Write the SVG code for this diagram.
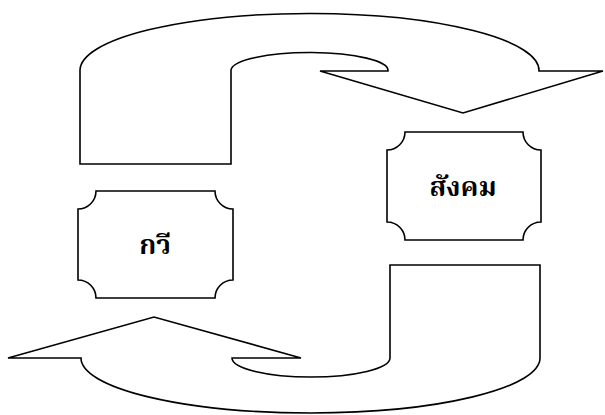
<svg xmlns="http://www.w3.org/2000/svg" width="605" height="415" viewBox="0 0 605 415">
<style>
.shape{fill:#fff;stroke:#000;stroke-width:1.6;stroke-linejoin:miter}
.lbl{font-family:"Noto Serif Thai","Noto Sans Thai","Noto Sans","DejaVu Sans",sans-serif;font-size:27px;font-weight:bold;text-anchor:middle;fill:#000}
</style>
<rect width="605" height="415" fill="#fff"/>
<g id="connectors">
<path id="arrow-top" class="shape" d="M80,164 L80,70 A229.5,57 0 0 1 539,71 L603,71 L463,113 L320,71 L388,71 A78.5,18 0 0 0 231,70 L231,164 Z"/>
<path id="arrow-bottom" class="shape" d="M540,265 L540,358 A229.5,55 0 0 1 81,358 L8,358 L154,317 L301,358 L232,358 A79,19 0 0 0 390,358 L390,265 Z"/>
</g>
<g id="node-kawi">
<path class="shape" d="M96,191 L215,191 A18,18 0 0 0 233,209 L233,280 A18,18 0 0 0 215,298 L96,298 A18,18 0 0 0 78,280 L78,209 A18,18 0 0 0 96,191 Z"/>
<text class="lbl" x="155" y="254">กวี</text>
</g>
<g id="node-sangkhom">
<path class="shape" d="M405,132 L523,132 A18,18 0 0 0 541,150 L541,222 A18,18 0 0 0 523,240 L405,240 A18,18 0 0 0 387,222 L387,150 A18,18 0 0 0 405,132 Z"/>
<text class="lbl" x="463" y="196">สังคม</text>
</g>
</svg>
